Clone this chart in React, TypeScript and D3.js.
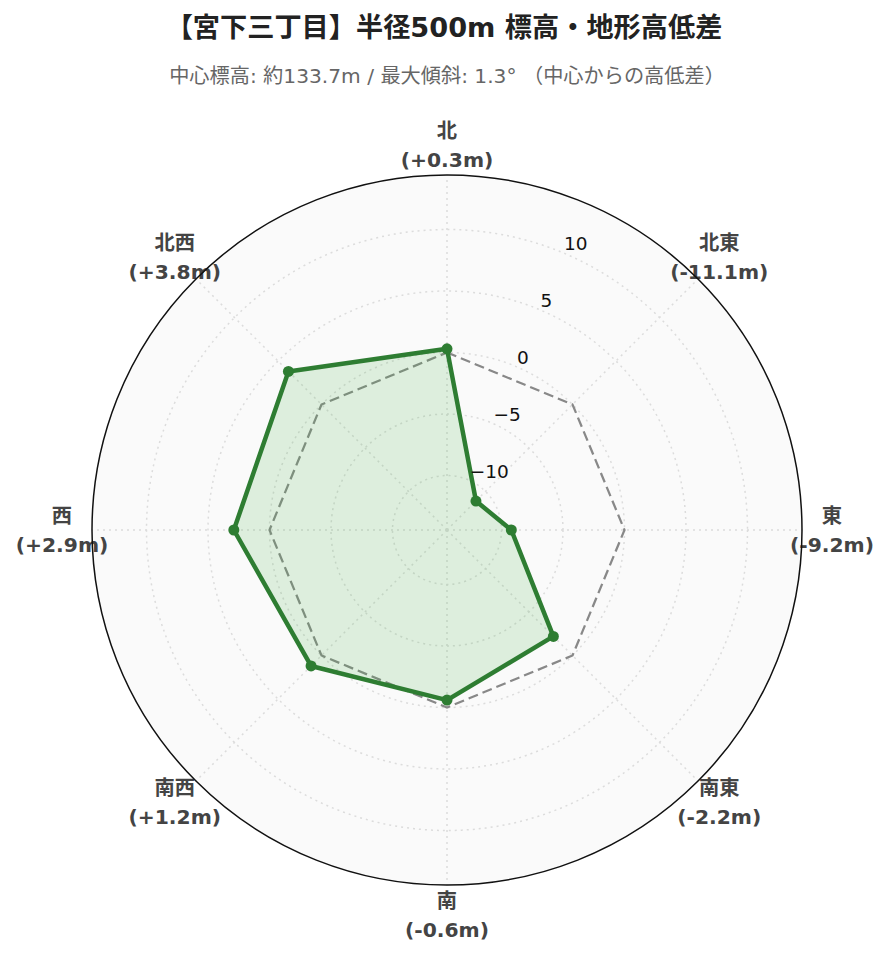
import React from "react";
import * as d3 from "d3";

const directions = ["北", "北東", "東", "南東", "南", "南西", "西", "北西"];
const elevDiff = [0.3, -11.1, -9.2, -2.2, -0.6, 1.2, 2.9, 3.8];
const diffLabels = ["(+0.3m)", "(-11.1m)", "(-9.2m)", "(-2.2m)", "(-0.6m)", "(+1.2m)", "(+2.9m)", "(+3.8m)"];
const radialTicks = [-10, -5, 0, 5, 10];
const radialRange = [-14.43, 14.43];
const titleText = "【宮下三丁目】半径500m 標高・地形高低差";
const subtitleText = "中心標高: 約133.7m / 最大傾斜: 1.3° （中心からの高低差）";

const W = 889;
const H = 962;
const cx = 447;
const cy = 530;
const R = 355;
const FONT = "'DejaVu Sans', 'Noto Sans CJK JP', sans-serif";

export default function App() {
  const r = d3.scaleLinear().domain(radialRange).range([0, R]);
  const ang = d3.scalePoint<string>().domain(directions).range([0, 2 * Math.PI * (7 / 8)]);
  const pt = (a: number, rad: number): [number, number] => [cx + rad * Math.sin(a), cy - rad * Math.cos(a)];

  const radial = d3
    .lineRadial<number>()
    .angle((_, i) => ang(directions[i]) as number)
    .radius((d) => r(d))
    .curve(d3.curveLinearClosed);

  const dataPath = radial(elevDiff) || "";
  const zeroPath = radial(directions.map(() => 0)) || "";
  const tickAngle = Math.PI / 8;

  return (
    <svg
      width={W}
      height={H}
      style={{ position: "absolute", left: 0, top: 0, background: "#fff" }}
      fontFamily={FONT}
    >
      <text x={cx - 3} y={37} textAnchor="middle" fontSize={27.2} fontWeight="bold" fill="#222">
        {titleText}
      </text>
      <text x={cx} y={83} textAnchor="middle" fontSize={20.2} fill="#666">
        {subtitleText}
      </text>

      <circle cx={cx} cy={cy} r={R} fill="#fafafa" />

      {radialTicks.map((t) => (
        <circle
          key={"g" + t}
          cx={cx}
          cy={cy}
          r={r(t)}
          fill="none"
          stroke="#dcdcdc"
          strokeWidth={1.5}
          strokeDasharray="2,4"
        />
      ))}
      {directions.map((d) => {
        const [x2, y2] = pt(ang(d) as number, R);
        return (
          <line
            key={"s" + d}
            x1={cx}
            y1={cy}
            x2={x2}
            y2={y2}
            stroke="#dcdcdc"
            strokeWidth={1.5}
            strokeDasharray="2,4"
          />
        );
      })}

      <g transform={`translate(${cx},${cy})`}>
        <path d={zeroPath} fill="none" stroke="#888" strokeWidth={2.25} strokeDasharray="10,5" />
        <path d={dataPath} fill="rgba(76,175,80,0.17)" stroke="#2e7d32" strokeWidth={4.5} strokeLinejoin="round" />
      </g>
      {elevDiff.map((v, i) => {
        const [x, y] = pt(ang(directions[i]) as number, r(v));
        return <circle key={"m" + i} cx={x} cy={y} r={5.5} fill="#2e7d32" />;
      })}

      {radialTicks.map((t) => {
        const [x, y] = pt(tickAngle, r(t));
        return (
          <text key={"t" + t} x={x + 2} y={y - 2} fontSize={18.5} fill="#111" textAnchor="start">
            {t < 0 ? "\u2212" + Math.abs(t) : String(t)}
          </text>
        );
      })}

      {directions.map((d, i) => {
        const [x, y] = pt(ang(d) as number, 385);
        return (
          <text key={"a" + d} x={x} textAnchor="middle" fontSize={20.3} fontWeight="bold" fill="#444">
            <tspan x={x} y={y - 14.5 + 7}>{d}</tspan>
            <tspan x={x} y={y + 14.5 + 7}>{diffLabels[i]}</tspan>
          </text>
        );
      })}

      <circle cx={cx} cy={cy} r={R} fill="none" stroke="#111" strokeWidth={1.5} />
    </svg>
  );
}
